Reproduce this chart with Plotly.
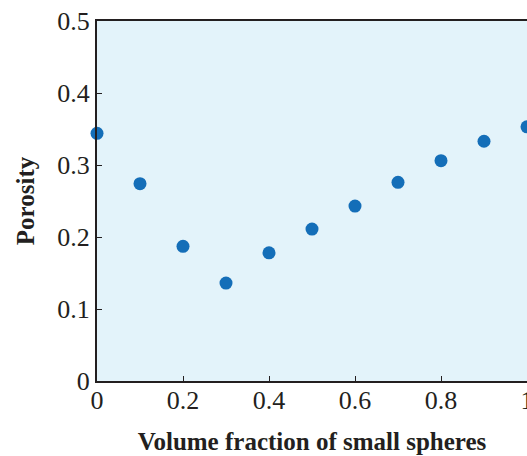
import plotly.graph_objects as go

fraction = [0.0, 0.1, 0.2, 0.3, 0.4, 0.5, 0.6, 0.7, 0.8, 0.9, 1.0]
porosity = [0.344, 0.274, 0.187, 0.136, 0.178, 0.211, 0.243, 0.276, 0.306, 0.333, 0.353]
xticks = [0, 0.2, 0.4, 0.6, 0.8, 1]
xtick_text = ["0", "0.2", "0.4", "0.6", "0.8", "1"]
yticks = [0, 0.1, 0.2, 0.3, 0.4, 0.5]
ytick_text = ["0", "0.1", "0.2", "0.3", "0.4", "0.5"]

fig = go.Figure(go.Scatter(
    x=fraction, y=porosity, mode="markers",
    marker=dict(size=13, color="#146EB8"),
    cliponaxis=False,
))

font = "Liberation Serif, Times New Roman, serif"
fig.update_layout(
    width=527, height=456,
    margin=dict(l=97, r=0, t=21, b=75, autoexpand=False),
    paper_bgcolor="white",
    plot_bgcolor="#E3F3FA",
    font=dict(family=font, size=26, color="#231F20"),
    showlegend=False,
)
fig.update_xaxes(
    range=[0, 1], tickvals=xticks, ticktext=xtick_text,
    ticks="inside", ticklen=5, tickwidth=1, tickcolor="#231F20",
    ticklabeloverflow="allow", ticklabelstandoff=-5,
    showline=True, linecolor="#231F20", linewidth=2, mirror=True,
    showgrid=False, zeroline=False, automargin=False,
    title=dict(text="<b>Volume fraction of small spheres</b>", font=dict(size=25), standoff=18),
)
fig.update_yaxes(
    range=[0, 0.5], tickvals=yticks, ticktext=ytick_text,
    ticks="inside", ticklen=5, tickwidth=1, tickcolor="#231F20",
    showline=True, linecolor="#231F20", linewidth=2, mirror=False,
    showgrid=False, zeroline=False, automargin=False,
    title=dict(text="<b>Porosity</b>", font=dict(size=25), standoff=16),
)
fig.write_html(
    "out.html",
    config={"displayModeBar": False},
    post_script="document.body.style.margin='0';document.body.style.overflow='hidden';",
)
